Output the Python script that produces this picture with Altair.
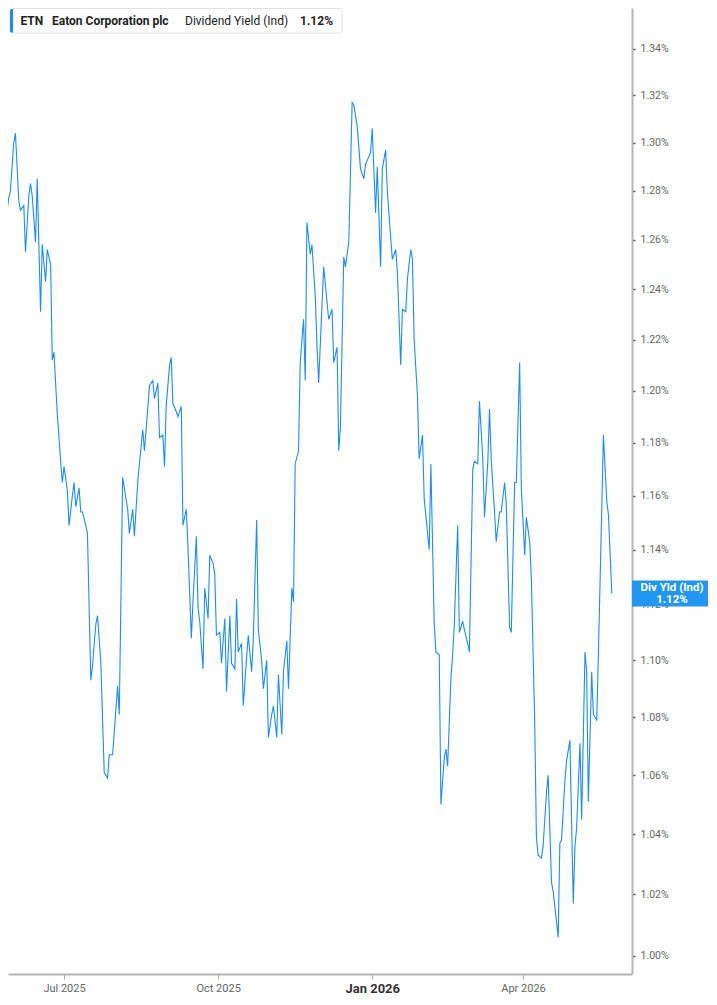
import altair as alt
import pandas as pd

# Trading dates, stored as day offsets from 2025-07-01
day_offsets = [
    -38, -37, -36, -35, -33, -32, -30, -29, -27, -26,
    -24, -23, -21, -20, -19, -17, -16, -14, -13, -11,
    -10, -8, -7, -6, -4, -2, -1, 0, 2, 3,
    5, 6, 7, 9, 10, 11, 13, 14, 16, 17,
    19, 20, 22, 23, 24, 26, 27, 29, 32, 33,
    35, 38, 39, 41, 42, 44, 45, 47, 48, 50,
    51, 53, 54, 56, 57, 59, 60, 61, 63, 64,
    65, 67, 68, 70, 71, 73, 74, 76, 77, 79,
    80, 81, 83, 84, 86, 87, 89, 90, 91, 93,
    94, 96, 97, 99, 100, 102, 103, 104, 106, 107,
    109, 110, 112, 113, 115, 116, 118, 119, 121, 122,
    124, 125, 127, 128, 130, 131, 133, 134, 136, 137,
    138, 140, 141, 143, 144, 145, 147, 148, 150, 151,
    152, 155, 158, 160, 161, 163, 164, 165, 167, 168,
    170, 172, 173, 175, 177, 179, 180, 183, 184, 186,
    187, 189, 190, 192, 193, 195, 196, 198, 199, 201,
    202, 204, 205, 207, 208, 209, 211, 212, 214, 215,
    218, 219, 221, 222, 224, 225, 227, 228, 229, 231,
    232, 233, 235, 236, 238, 239, 241, 242, 244, 245,
    247, 248, 250, 251, 253, 254, 255, 257, 258, 260,
    261, 263, 264, 266, 267, 269, 270, 272, 273, 275,
    276, 278, 279, 281, 282, 283, 285, 286, 288, 289,
    291, 292, 293, 295, 296, 297, 299, 300, 302, 304,
    305, 306, 308, 309, 311, 312, 313, 315, 316, 318,
    319, 321, 322, 324, 325, 327,
]

# Dividend yield (%)
div_yield = [
    1.294, 1.295, 1.295, 1.267, 1.277, 1.280, 1.300, 1.304, 1.276, 1.272,
    1.274, 1.255, 1.278, 1.283, 1.278, 1.259, 1.285, 1.231, 1.258, 1.243,
    1.256, 1.250, 1.212, 1.215, 1.191, 1.173, 1.165, 1.171, 1.162, 1.149,
    1.160, 1.165, 1.156, 1.163, 1.154, 1.154, 1.149, 1.146, 1.093, 1.098,
    1.113, 1.116, 1.099, 1.080, 1.061, 1.059, 1.067, 1.067, 1.091, 1.081,
    1.167, 1.155, 1.146, 1.155, 1.145, 1.165, 1.172, 1.185, 1.177, 1.193,
    1.202, 1.204, 1.197, 1.203, 1.182, 1.183, 1.171, 1.194, 1.210, 1.213,
    1.195, 1.192, 1.190, 1.194, 1.149, 1.155, 1.141, 1.108, 1.121, 1.145,
    1.119, 1.114, 1.097, 1.126, 1.115, 1.138, 1.135, 1.131, 1.109, 1.110,
    1.099, 1.115, 1.089, 1.116, 1.099, 1.097, 1.122, 1.103, 1.106, 1.084,
    1.101, 1.109, 1.096, 1.108, 1.151, 1.111, 1.100, 1.090, 1.100, 1.073,
    1.081, 1.084, 1.073, 1.095, 1.074, 1.096, 1.107, 1.090, 1.126, 1.121,
    1.172, 1.177, 1.211, 1.228, 1.204, 1.267, 1.254, 1.258, 1.237, 1.218,
    1.203, 1.249, 1.228, 1.232, 1.211, 1.217, 1.177, 1.186, 1.253, 1.249,
    1.259, 1.317, 1.316, 1.307, 1.289, 1.285, 1.291, 1.296, 1.306, 1.271,
    1.290, 1.249, 1.289, 1.297, 1.280, 1.261, 1.252, 1.256, 1.247, 1.210,
    1.232, 1.231, 1.244, 1.256, 1.252, 1.220, 1.198, 1.174, 1.183, 1.159,
    1.140, 1.172, 1.113, 1.103, 1.102, 1.050, 1.066, 1.069, 1.063, 1.094,
    1.102, 1.113, 1.149, 1.110, 1.114, 1.111, 1.106, 1.103, 1.170, 1.173,
    1.172, 1.196, 1.174, 1.152, 1.173, 1.193, 1.174, 1.154, 1.143, 1.154,
    1.154, 1.165, 1.157, 1.112, 1.110, 1.165, 1.165, 1.211, 1.163, 1.138,
    1.152, 1.143, 1.129, 1.078, 1.039, 1.033, 1.032, 1.036, 1.054, 1.060,
    1.024, 1.021, 1.016, 1.006, 1.037, 1.038, 1.058, 1.065, 1.072, 1.017,
    1.036, 1.042, 1.071, 1.045, 1.103, 1.096, 1.051, 1.096, 1.081, 1.079,
    1.102, 1.155, 1.183, 1.158, 1.153, 1.124,
]

y_tick_values = [1.00, 1.02, 1.04, 1.06, 1.08, 1.10, 1.12, 1.14, 1.16,
                 1.18, 1.20, 1.22, 1.24, 1.26, 1.28, 1.30, 1.32, 1.34]

legend_ticker = "ETN"
legend_name = "Eaton Corporation plc"
legend_metric = "Dividend Yield (Ind)"
legend_value = "1.12%"
end_label_title = "Div Yld (Ind)"
end_label_value = "1.12%"

start = pd.Timestamp("2025-07-01")
dates = [(start + pd.Timedelta(days=d)).strftime("%Y-%m-%dT00:00:00") for d in day_offsets]
df = pd.DataFrame({"date": dates, "yld": div_yield})
df_last = df.tail(1)
one_row = pd.DataFrame({"k": [0]})

BLUE = "#1a8cff"
LABEL_BLUE = "#2196f3"

jan_test = "month(datum.value) === 0"

x_enc = alt.X(
    "date:T",
    scale=alt.Scale(domain=[
        alt.DateTime(year=2025, month=5, date=28, hours=13, minutes=40),
        alt.DateTime(year=2026, month=6, date=5, hours=1, minutes=30),
    ]),
    axis=alt.Axis(
        title=None,
        grid=False,
        values=[
            alt.DateTime(year=2025, month=7, date=1),
            alt.DateTime(year=2025, month=10, date=1),
            alt.DateTime(year=2026, month=1, date=1),
            alt.DateTime(year=2026, month=4, date=1),
        ],
        format="%b %Y",
        domainColor="#b5b5b5",
        domainWidth=2,
        tickColor="#aaaaaa",
        tickSize=5,
        tickWidth=1,
        labelFont="Roboto",
        labelFontSize={"condition": {"test": jan_test, "value": 13}, "value": 11},
        labelFontWeight={"condition": {"test": jan_test, "value": "bold"}, "value": "normal"},
        labelColor={"condition": {"test": jan_test, "value": "#333333"}, "value": "#666666"},
        labelPadding=3,
        labelOverlap=False,
        labelFlush=False,
    ),
)

y_enc = alt.Y(
    "yld:Q",
    scale=alt.Scale(type="log", domain=[0.99413, 1.3578], nice=False),
    axis=alt.Axis(
        title=None,
        orient="right",
        grid=False,
        values=y_tick_values,
        labelExpr="format(datum.value, '.2f') + '%'",
        domainColor="#b5b5b5",
        domainWidth=2,
        tickColor="#555555",
        tickSize=3,
        tickWidth=1.5,
        labelFont="Roboto",
        labelFontSize=10.5,
        labelColor="#666666",
        labelPadding=5,
        labelOverlap=False,
        labelFlush=False,
    ),
)

line = alt.Chart(df).mark_line(color=BLUE, strokeWidth=1.1, clip=True).encode(x=x_enc, y=y_enc)

legend_box = alt.Chart(one_row).mark_rect(
    fill="white", stroke="#e2e2e2", strokeWidth=1, cornerRadius=3
).encode(x=alt.value(2), x2=alt.value(334), y=alt.value(0.5), y2=alt.value(25))

legend_bar = alt.Chart(one_row).mark_rect(
    fill=BLUE, cornerRadiusTopLeft=3, cornerRadiusBottomLeft=3
).encode(x=alt.value(2), x2=alt.value(5), y=alt.value(1), y2=alt.value(24.5))


def legend_text(txt, xpos, weight):
    return alt.Chart(one_row).mark_text(
        font="Roboto", fontSize=12, fontWeight=weight, color="#222222",
        align="left", baseline="middle"
    ).encode(x=alt.value(xpos), y=alt.value(13), text=alt.value(txt))


end_box = alt.Chart(df_last).mark_rect(
    color=LABEL_BLUE, yOffset=-13, y2Offset=13
).encode(x=alt.value(624), x2=alt.value(700), y=alt.Y("yld:Q"), y2=alt.Y2("yld"))

end_t1 = alt.Chart(df_last).mark_text(
    font="Roboto", fontSize=11.5, fontWeight="bold", color="white",
    align="center", baseline="middle", dy=-6
).encode(x=alt.value(664), y=alt.Y("yld:Q"), text=alt.value(end_label_title))

end_t2 = alt.Chart(df_last).mark_text(
    font="Roboto", fontSize=11.5, fontWeight="bold", color="white",
    align="center", baseline="middle", dy=6
).encode(x=alt.value(664), y=alt.Y("yld:Q"), text=alt.value(end_label_value))

chart = alt.layer(
    line,
    legend_box,
    legend_bar,
    legend_text(legend_ticker, 12.5, "bold"),
    legend_text(legend_name, 44, "bold"),
    legend_text(legend_metric, 177, "normal"),
    legend_text(legend_value, 292, "bold"),
    end_box,
    end_t1,
    end_t2,
).properties(width=624, height=966, padding=0).configure_view(strokeWidth=0)

chart.save("out.html", embed_options={"renderer": "svg", "actions": False})
